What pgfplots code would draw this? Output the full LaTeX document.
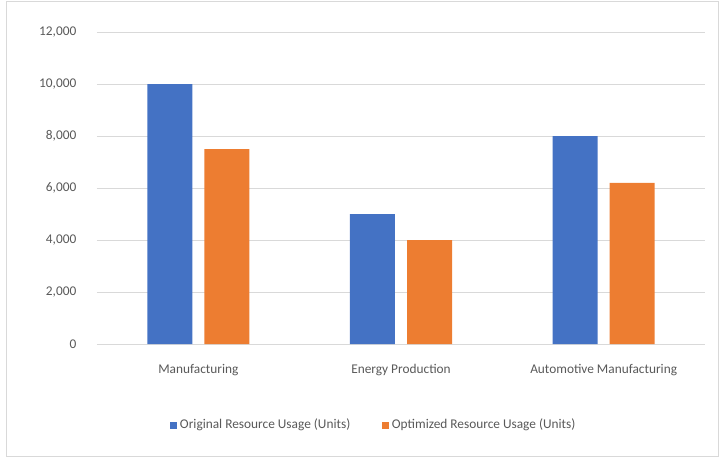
\documentclass[border=0pt]{standalone}
\usepackage{pgfplots}
\pgfplotsset{compat=1.18}
\usepackage{fontspec}
\setmainfont{Carlito}
\definecolor{xblue}{HTML}{4472C4}
\definecolor{xorange}{HTML}{ED7D31}
\definecolor{xgrid}{HTML}{D9D9D9}
\definecolor{xtext}{HTML}{595959}
\definecolor{xframe}{HTML}{D9D9D9}
\begin{document}
\begin{tikzpicture}[x=0.75pt,y=0.75pt]
\useasboundingbox (0,0) rectangle (724,458);
\draw[xframe, line width=0.75pt] (6,2) rectangle (718,456);
\begin{axis}[
  at={(72.75pt,85.5pt)}, anchor=south west,
  scale only axis, width=456pt, height=234pt,
  xmin=-0.5, xmax=2.5, ymin=0, ymax=12000,
  xtick={0,1,2},
  xticklabels={Manufacturing, Energy Production, Automotive Manufacturing},
  ytick={0,2000,4000,6000,8000,10000,12000},
  scaled y ticks=false,
  ymajorgrids, grid style={xgrid, line width=0.75pt},
  axis line style={draw=none},
  major tick length=0pt,
  tick label style={font=\fontsize{10}{12}\selectfont, text=xtext},
  /pgf/number format/assume math mode=true,
  yticklabel style={/pgf/number format/fixed, /pgf/number format/1000 sep={,}, xshift=-12pt},
  xticklabel style={yshift=-12pt},
  legend style={at={(0.456,-0.26)}, anchor=center, draw=none,
    font=\fontsize{10}{12}\selectfont, text=xtext,
    legend columns=2, /tikz/every even column/.append style={column sep=22pt}},
  legend image code/.code={\fill[#1] (0pt,-2.6pt) rectangle (5.2pt,2.6pt);},
]
\addplot[ybar, bar width=33.75pt, bar shift=-21.4pt, fill=xblue, draw=none]
  coordinates {(0,10000) (1,5000) (2,8000)};
\addlegendentry{Original Resource Usage (Units)}
\addplot[ybar, bar width=33.75pt, bar shift=21.4pt, fill=xorange, draw=none]
  coordinates {(0,7500) (1,4000) (2,6200)};
\addlegendentry{Optimized Resource Usage (Units)}
\end{axis}
\end{tikzpicture}
\end{document}
